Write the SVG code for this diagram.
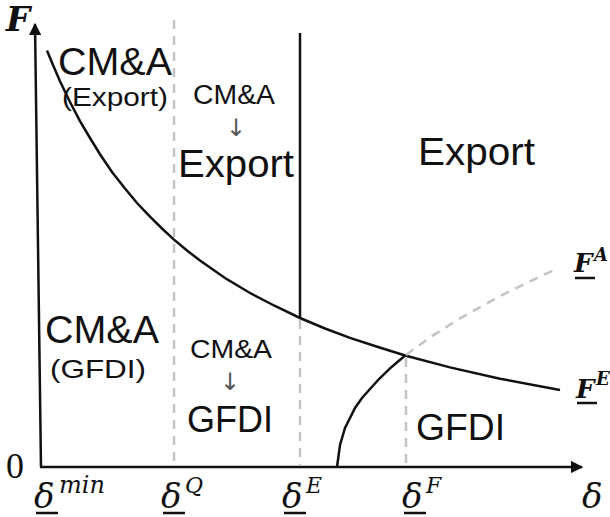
<svg xmlns="http://www.w3.org/2000/svg" width="610" height="517" viewBox="0 0 610 517">
<style>
.lbl{font-family:"Liberation Sans",Arial,sans-serif;fill:#111}
.math{font-family:"DejaVu Serif","Liberation Serif",serif;font-style:italic;fill:#111}
.dash{fill:none;stroke:#c4c4c4;stroke-width:2.5;stroke-dasharray:9,7}
.solid{fill:none;stroke:#111;stroke-width:2.5}
.ul{stroke:#111;stroke-width:2.5}
.arr{fill:#555;font-family:"DejaVu Sans",sans-serif}
</style>
<defs>
<marker id="ah" viewBox="0 0 10 10" refX="9" refY="5" markerWidth="5" markerHeight="5" orient="auto" markerUnits="strokeWidth">
<path d="M0,0 L10,5 L0,10 z" fill="#111"/>
</marker>
</defs>
<g id="connectors">
<line id="yaxis" class="solid" x1="41" y1="467" x2="35" y2="24" stroke-width="3" marker-end="url(#ah)"/>
<line id="xaxis" class="solid" x1="40" y1="467" x2="582" y2="467" stroke-width="3" marker-end="url(#ah)"/>
<line id="dQ" class="dash" x1="174" y1="20" x2="174" y2="466"/>
<line id="vE" class="solid" x1="300" y1="33" x2="300" y2="318"/>
<line id="dE" class="dash" x1="300" y1="320" x2="300" y2="466"/>
<line id="dF" class="dash" x1="406" y1="358" x2="406" y2="466"/>
<polyline id="FE" class="solid" points="47,50.5 53,65 60,81.2 70,102 80,121.1 90,138 100,154.2 112,172 125,188.5 137,203 150,216.7 162,228.5 174,239.6 187,250.5 200,260.6 225,278 250,293 275,306 300,318 325,328.5 350,337.9 378,347 406,355.7 450,367.4 500,378.7 560,390"/>
<polyline id="FAs" class="solid" points="337,467 340,445 345,428 350,418 355,408 362,398 370,389 380,378 390,368.4 398,361.5 406,354.9"/>
<polyline id="FAd" class="dash" points="406,354.9 430,337.4 460,318.3 500,296.2 530,281.3 556,269"/>
</g>
<g id="axis-labels">
<text class="math" x="6" y="31" font-size="34" font-weight="bold">F</text>
<text x="6" y="478" font-family="Liberation Serif,serif" font-size="36" fill="#111">0</text>
<text class="math" x="582" y="508" font-size="34">δ</text>
<g id="dmin"><text class="math" x="34" y="508" font-size="34">δ</text><text class="math" x="59" y="493" font-size="24">min</text><line class="ul" x1="36" y1="513" x2="58" y2="513"/></g>
<g id="dQl"><text class="math" x="161" y="508" font-size="34">δ</text><text class="math" x="185" y="493" font-size="22">Q</text><line class="ul" x1="163" y1="513" x2="185" y2="513"/></g>
<g id="dEl"><text class="math" x="282" y="508" font-size="34">δ</text><text class="math" x="306" y="493" font-size="22">E</text><line class="ul" x1="284" y1="513" x2="306" y2="513"/></g>
<g id="dFl"><text class="math" x="402" y="508" font-size="34">δ</text><text class="math" x="426" y="493" font-size="22">F</text><line class="ul" x1="404" y1="513" x2="426" y2="513"/></g>
<g id="FAl"><text class="math" x="574" y="272" font-size="26" font-weight="bold">F</text><text class="math" x="594" y="261" font-size="18" font-weight="bold">A</text><line class="ul" x1="575" y1="278" x2="595" y2="278"/></g>
<g id="FEl"><text class="math" x="576" y="398" font-size="26" font-weight="bold">F</text><text class="math" x="596" y="385" font-size="18" font-weight="bold">E</text><line class="ul" x1="577" y1="403" x2="597" y2="403"/></g>
</g>
<g id="region-cma-export">
<text class="lbl" x="58" y="75" font-size="38" textLength="114" lengthAdjust="spacingAndGlyphs">CM&amp;A</text>
<text class="lbl" x="62" y="106" font-size="25" textLength="106" lengthAdjust="spacingAndGlyphs">(Export)</text>
</g>
<g id="region-cma-to-export">
<text class="lbl" x="193" y="104" font-size="27" textLength="82" lengthAdjust="spacingAndGlyphs">CM&amp;A</text>
<text class="arr" x="236" y="136" font-size="24" text-anchor="middle">↓</text>
<text class="lbl" x="178" y="177" font-size="38" textLength="116" lengthAdjust="spacingAndGlyphs">Export</text>
</g>
<g id="region-export">
<text class="lbl" x="418" y="165" font-size="38" textLength="117" lengthAdjust="spacingAndGlyphs">Export</text>
</g>
<g id="region-cma-gfdi">
<text class="lbl" x="45" y="343" font-size="38" textLength="114" lengthAdjust="spacingAndGlyphs">CM&amp;A</text>
<text class="lbl" x="50" y="378" font-size="25" textLength="96" lengthAdjust="spacingAndGlyphs">(GFDI)</text>
</g>
<g id="region-cma-to-gfdi">
<text class="lbl" x="190" y="358" font-size="26" textLength="82" lengthAdjust="spacingAndGlyphs">CM&amp;A</text>
<text class="arr" x="230" y="390" font-size="24" text-anchor="middle">↓</text>
<text class="lbl" x="187" y="432" font-size="37" textLength="86" lengthAdjust="spacingAndGlyphs">GFDI</text>
</g>
<g id="region-gfdi">
<text class="lbl" x="416" y="440" font-size="37" textLength="89" lengthAdjust="spacingAndGlyphs">GFDI</text>
</g>
</svg>
